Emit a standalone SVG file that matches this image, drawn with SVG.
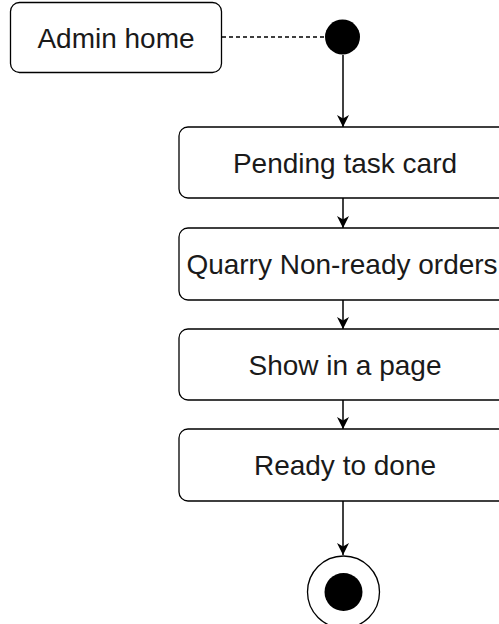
<svg xmlns="http://www.w3.org/2000/svg" width="499" height="624" viewBox="0 0 499 624">
<style>
.box{fill:#fff;stroke:#000;stroke-width:1.3}
.lbl{font-family:"Liberation Sans",Arial,sans-serif;font-size:28px;fill:#1a1a1a;text-anchor:middle;dominant-baseline:central}
.edge{stroke:#000;stroke-width:1.5;fill:none}
</style>
<defs>
<marker id="arr" viewBox="0 0 12 12" refX="12" refY="6" markerWidth="12" markerHeight="12" markerUnits="userSpaceOnUse" orient="auto">
<path d="M0,0 L12,6 L0,12 L3.5,6 Z" fill="#000"/>
</marker>
</defs>
<rect width="499" height="624" fill="#fff"/>
<g id="edges">
<line class="edge" x1="222" y1="37" x2="325" y2="37" stroke-dasharray="4,3"/>
<line class="edge" x1="343" y1="55" x2="343" y2="127" marker-end="url(#arr)"/>
<line class="edge" x1="343" y1="198" x2="343" y2="228" marker-end="url(#arr)"/>
<line class="edge" x1="343" y1="300" x2="343" y2="329" marker-end="url(#arr)"/>
<line class="edge" x1="343" y1="400" x2="343" y2="429" marker-end="url(#arr)"/>
<line class="edge" x1="343" y1="501" x2="343" y2="555" marker-end="url(#arr)"/>
</g>
<g id="admin-home">
<rect class="box" x="10.5" y="2.5" width="211" height="70" rx="9"/>
<text class="lbl" x="116" y="38">Admin home</text>
</g>
<g id="start">
<circle cx="342.5" cy="37" r="17.5" fill="#000"/>
</g>
<g id="pending">
<rect class="box" x="179" y="127" width="330" height="71" rx="9"/>
<text class="lbl" x="345" y="163">Pending task card</text>
</g>
<g id="quarry">
<rect class="box" x="179" y="228" width="330" height="72" rx="9"/>
<text class="lbl" x="342" y="264">Quarry Non-ready orders</text>
</g>
<g id="show">
<rect class="box" x="179" y="329" width="330" height="71" rx="9"/>
<text class="lbl" x="345" y="365">Show in a page</text>
</g>
<g id="ready">
<rect class="box" x="179" y="429" width="330" height="72" rx="9"/>
<text class="lbl" x="345" y="465">Ready to done</text>
</g>
<g id="end">
<circle cx="343.5" cy="592" r="36" fill="#fff" stroke="#000" stroke-width="1.3"/>
<circle cx="343.5" cy="592" r="19" fill="#000"/>
</g>
</svg>
